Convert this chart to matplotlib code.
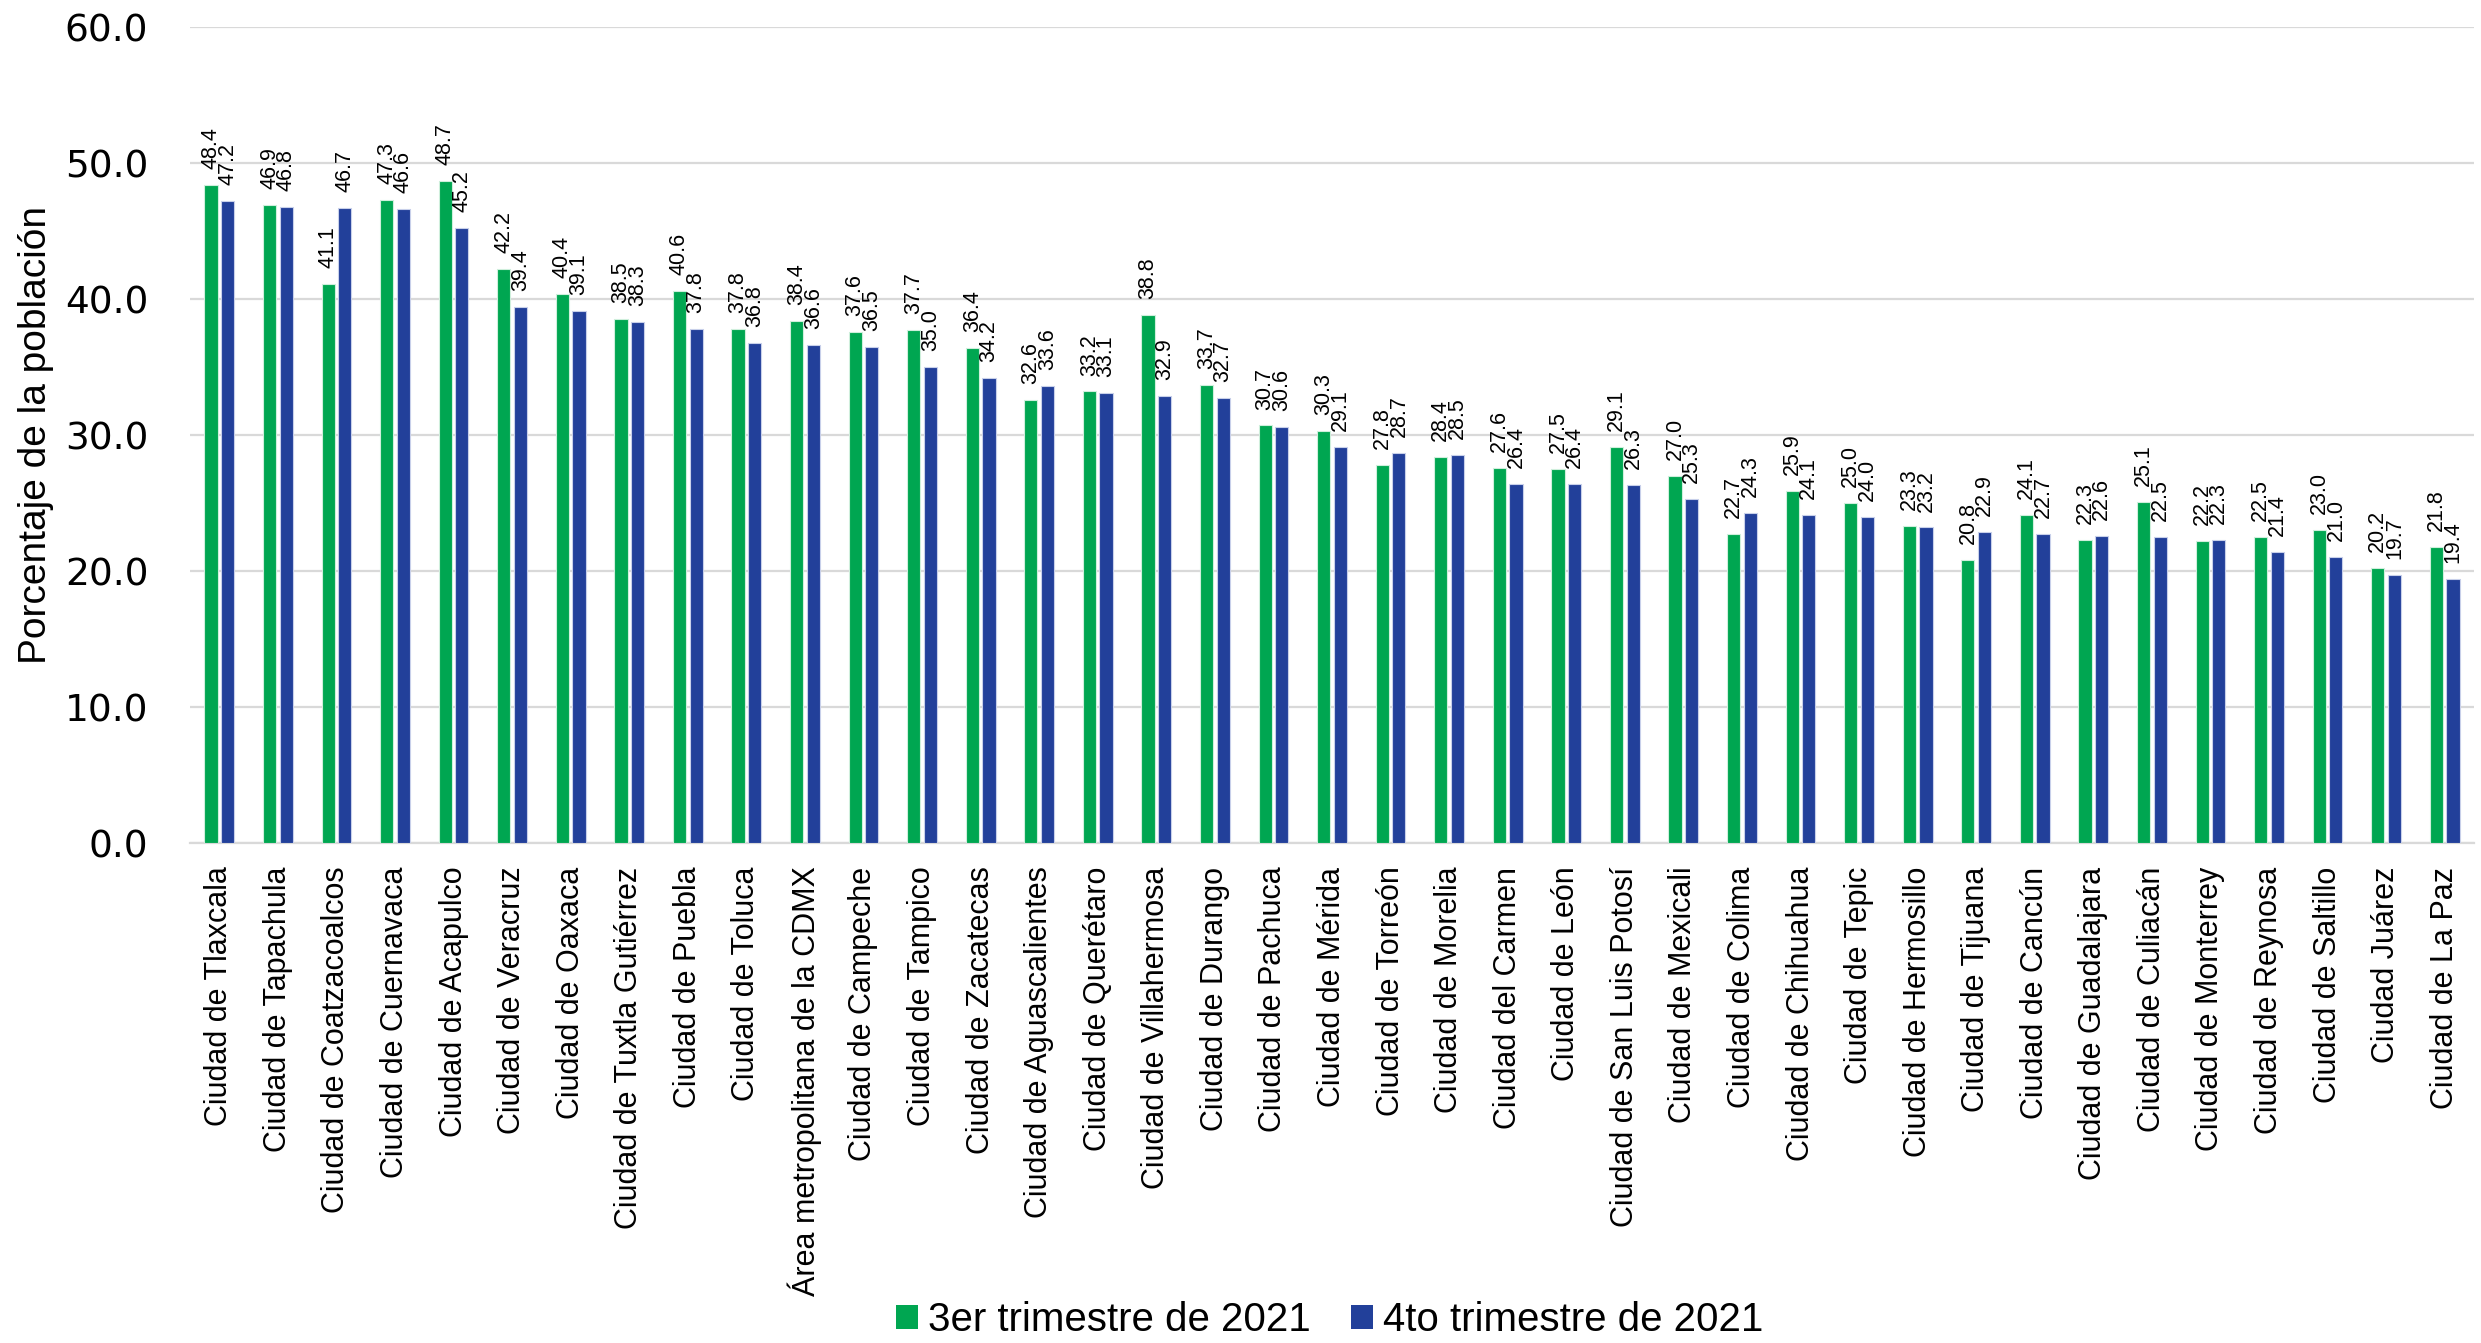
import matplotlib
matplotlib.use("Agg")
import matplotlib.pyplot as plt
import numpy as np

categories = [
    "Ciudad de Tlaxcala", "Ciudad de Tapachula", "Ciudad de Coatzacoalcos",
    "Ciudad de Cuernavaca", "Ciudad de Acapulco", "Ciudad de Veracruz",
    "Ciudad de Oaxaca", "Ciudad de Tuxtla Gutiérrez", "Ciudad de Puebla",
    "Ciudad de Toluca", "Área metropolitana de la CDMX", "Ciudad de Campeche",
    "Ciudad de Tampico", "Ciudad de Zacatecas", "Ciudad de Aguascalientes",
    "Ciudad de Querétaro", "Ciudad de Villahermosa", "Ciudad de Durango",
    "Ciudad de Pachuca", "Ciudad de Mérida", "Ciudad de Torreón",
    "Ciudad de Morelia", "Ciudad del Carmen", "Ciudad de León",
    "Ciudad de San Luis Potosí", "Ciudad de Mexicali", "Ciudad de Colima",
    "Ciudad de Chihuahua", "Ciudad de Tepic", "Ciudad de Hermosillo",
    "Ciudad de Tijuana", "Ciudad de Cancún", "Ciudad de Guadalajara",
    "Ciudad de Culiacán", "Ciudad de Monterrey", "Ciudad de Reynosa",
    "Ciudad de Saltillo", "Ciudad Juárez", "Ciudad de La Paz",
]

q3_2021 = [48.4, 46.9, 41.1, 47.3, 48.7, 42.2, 40.4, 38.5, 40.6, 37.8,
           38.4, 37.6, 37.7, 36.4, 32.6, 33.2, 38.8, 33.7, 30.7, 30.3,
           27.8, 28.4, 27.6, 27.5, 29.1, 27.0, 22.7, 25.9, 25.0, 23.3,
           20.8, 24.1, 22.3, 25.1, 22.2, 22.5, 23.0, 20.2, 21.8]

q4_2021 = [47.2, 46.8, 46.7, 46.6, 45.2, 39.4, 39.1, 38.3, 37.8, 36.8,
           36.6, 36.5, 35.0, 34.2, 33.6, 33.1, 32.9, 32.7, 30.6, 29.1,
           28.7, 28.5, 26.4, 26.4, 26.3, 25.3, 24.3, 24.1, 24.0, 23.2,
           22.9, 22.7, 22.6, 22.5, 22.3, 21.4, 21.0, 19.7, 19.4]

series_names = ["3er trimestre de 2021", "4to trimestre de 2021"]
yticks = [0, 10, 20, 30, 40, 50, 60]

GREEN = "#00A651"
BLUE = "#22409A"
GRID = "#D9D9D9"
FONT = ["Liberation Sans", "DejaVu Sans"]

fig = plt.figure(figsize=(24.81, 13.43), dpi=100)
ax = fig.add_axes([190 / 2481, 1 - 843 / 1343, (2474 - 190) / 2481, (843 - 27) / 1343])

x = np.arange(len(categories))
w = 0.225
off = 0.142
b1 = ax.bar(x - off, q3_2021, w, color=GREEN, edgecolor="#CFEFDC", linewidth=0.8,
            label=series_names[0], zorder=3)
b2 = ax.bar(x + off, q4_2021, w, color=BLUE, edgecolor="#C8D0EA", linewidth=0.8,
            label=series_names[1], zorder=3)

for bars, vals in ((b1, q3_2021), (b2, q4_2021)):
    for rect, v in zip(bars, vals):
        ax.annotate(f"{v:.1f}", (rect.get_x() + rect.get_width() / 2, v),
                    xytext=(0, 11.5), textcoords="offset points",
                    ha="center", va="bottom", rotation=90,
                    fontsize=15.5, family=FONT, color="black", zorder=4)

ax.set_xlim(-0.5, len(categories) - 0.5)
ax.set_ylim(0, 60)
ax.set_yticks(yticks)
ax.set_yticklabels([f"{t:.1f}" for t in yticks], family=["DejaVu Sans"], fontsize=27)
ax.set_xticks(x)
ax.set_xticklabels(categories, rotation=90, ha="center", va="top",
                   family=FONT, fontsize=22)
ax.tick_params(axis="both", length=0)
ax.tick_params(axis="y", pad=30)
ax.tick_params(axis="x", pad=17)

ax.grid(axis="y", color=GRID, linewidth=1.6, zorder=0)
for s in ("top", "right", "left"):
    ax.spines[s].set_visible(False)
ax.spines["bottom"].set_color(GRID)
ax.spines["bottom"].set_linewidth(1.6)
ax.spines["bottom"].set_zorder(1)

ax.set_ylabel("Porcentaje de la población", family=FONT, fontsize=28)
ax.yaxis.set_label_coords(-0.0595, 0.5)

leg = fig.legend(handles=[b1, b2], labels=series_names, loc="center",
                 bbox_to_anchor=(0.536, 0.017), ncol=2, frameon=False,
                 prop={"family": FONT, "size": 29},
                 handlelength=0.55, handleheight=0.55, handletextpad=0.25,
                 columnspacing=1.0)
for h in leg.legend_handles:
    h.set_edgecolor("none")

fig.savefig("out.png", dpi=100, facecolor="white")
